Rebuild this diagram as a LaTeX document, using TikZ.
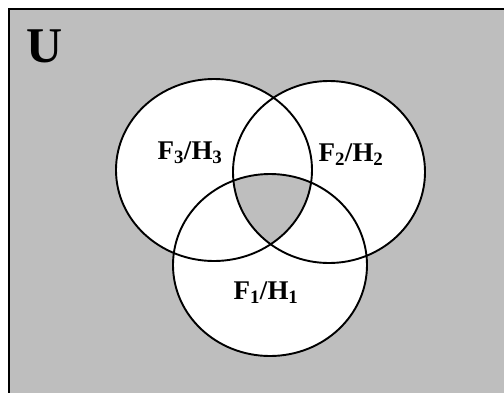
\documentclass[tikz,border=0pt]{standalone}
\usepackage{fontspec}
\setmainfont{Liberation Serif}
\usetikzlibrary{positioning}
\definecolor{vennbg}{HTML}{BEBEBE}

\begin{document}
\begin{tikzpicture}[
 x=1pt,y=-1pt,
 setline/.style={draw=black,line width=1.9pt},
 lbl/.style={font=\bfseries\fontsize{27}{27}\selectfont,inner sep=0pt},
 title/.style={font=\bfseries\fontsize{50}{50}\selectfont,inner sep=0pt}
]
\useasboundingbox (0,0) rectangle (504,392);
\draw[fill=vennbg,line width=2pt] (8.5,8.5) rectangle (520,410);
% three sets
\def\setleft{(214,170) ellipse [x radius=98,y radius=91]}
\def\setright{(329,172) ellipse [x radius=96,y radius=91]}
\def\setbottom{(270,265) ellipse [x radius=97,y radius=91]}
\fill[white] \setleft \setright \setbottom;
\begin{scope}
 \clip \setleft;
 \clip \setright;
 \fill[vennbg] \setbottom;
\end{scope}
\draw[setline] \setleft;
\draw[setline] \setright;
\draw[setline] \setbottom;
\node[title] (u) at (45,46) {U};
\node[lbl] (f3) at (190,153) {F\textsubscript{3}/H\textsubscript{3}};
\node[lbl] (f2) at (351,155) {F\textsubscript{2}/H\textsubscript{2}};
\node[lbl] (f1) at (266,293) {F\textsubscript{1}/H\textsubscript{1}};
\end{tikzpicture}
\end{document}
